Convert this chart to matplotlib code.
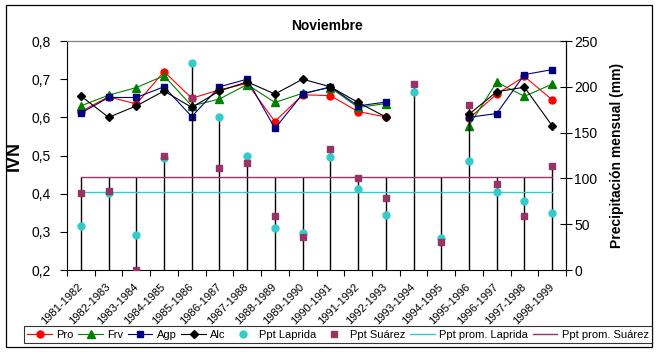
import matplotlib
matplotlib.use("Agg")
import matplotlib.pyplot as plt
from matplotlib.patches import Rectangle
from matplotlib.ticker import FuncFormatter
from matplotlib.transforms import ScaledTranslation
import numpy as np

plt.rcParams['font.family'] = ['Liberation Sans', 'DejaVu Sans']

campaigns = ['1981-1982', '1982-1983', '1983-1984', '1984-1985', '1985-1986', '1986-1987',
             '1987-1988', '1988-1989', '1989-1990', '1990-1991', '1991-1992', '1992-1993',
             '1993-1994', '1994-1995', '1995-1996', '1996-1997', '1997-1998', '1998-1999']

nan = np.nan
pro = [0.615, 0.654, 0.635, 0.720, 0.650, 0.672, 0.689, 0.589, 0.659, 0.657, 0.615, 0.601,
       nan, nan, 0.597, 0.661, 0.707, 0.646]
frv = [0.630, 0.658, 0.678, 0.709, 0.630, 0.648, 0.686, 0.639, 0.663, 0.678, 0.626, 0.636,
       nan, nan, 0.578, 0.692, 0.655, 0.687]
agp = [0.611, 0.652, 0.652, 0.680, 0.602, 0.680, 0.700, 0.571, 0.661, 0.680, 0.630, 0.640,
       nan, nan, 0.600, 0.610, 0.712, 0.725]
alc = [0.656, 0.600, 0.630, 0.669, 0.626, 0.669, 0.693, 0.661, 0.700, 0.680, 0.639, 0.601,
       nan, nan, 0.608, 0.667, 0.679, 0.578]

ppt_laprida = [48.4, 83.7, 38.6, 122.6, 225.6, 166.7, 124.8, 46.2, 40.8, 123.7, 88.8, 60.4,
               194.7, 34.6, 119.3, 85.5, 75.3, 62.6]
ppt_suarez = [84.4, 86.2, 0.0, 124.8, 187.4, 111.7, 117.2, 59.3, 36.4, 132.1, 100.8, 79.0,
              203.1, 30.9, 180.1, 93.9, 59.3, 113.9]
prom_laprida = 84.8
prom_suarez = 101.5

red = '#FF0000'
green = '#008000'
navy = '#000080'
cyan = '#33CCCC'
purple = '#993366'

n = len(campaigns)
x = np.arange(n)

fig = plt.figure(figsize=(6.58, 3.52), dpi=100)
ax = fig.add_axes([67 / 658, 1 - 270 / 352, 499 / 658, 229 / 352])
ax2 = ax.twinx()

# IVN series (primary axis)
ax.plot(x, pro, color=red, lw=0.8, marker='o', ms=5, mec=red, label='Pro')
ax.plot(x, frv, color=green, lw=0.8, marker='^', ms=5.5, mec=green, label='Frv')
ax.plot(x, agp, color=navy, lw=0.8, marker='s', ms=4.8, mec=navy, label='Agp')
ax.plot(x, alc, color='black', lw=0.8, marker='D', ms=4, mec='black', label='Alc')

# precipitation (secondary axis) with drop lines
tops = np.maximum.reduce([ppt_laprida, ppt_suarez, [prom_laprida] * n, [prom_suarez] * n])
ax2.vlines(x, 0, tops, color='black', lw=1.0, zorder=1)
ax2.plot(x, [prom_laprida] * n, color=cyan, lw=1.0, label='Ppt prom. Laprida', zorder=2)
ax2.plot(x, [prom_suarez] * n, color=purple, lw=1.0, label='Ppt prom. Suárez', zorder=2)
ax2.plot(x, ppt_laprida, ls='none', marker='o', ms=5, color=cyan, label='Ppt Laprida', zorder=3)
ax2.plot(x, ppt_suarez, ls='none', marker='s', ms=4.8, color=purple, label='Ppt Suárez', zorder=4)

ax.set_xlim(-0.5, n - 0.5)
ax.set_ylim(0.2, 0.8)
ax.set_yticks(np.arange(0.2, 0.81, 0.1))
ax.yaxis.set_major_formatter(FuncFormatter(lambda v, p: ('%.1f' % v).replace('.', ',')))
ax2.set_ylim(0, 250)
ax2.set_yticks(np.arange(0, 251, 50))

ax.set_xticks(x)
ax.set_xticklabels(campaigns, rotation=45, ha='right', va='center', rotation_mode='anchor', fontsize=8)
shift = ScaledTranslation(-0.035, 0, fig.dpi_scale_trans)
for lab in ax.get_xticklabels():
    lab.set_transform(lab.get_transform() + shift)
ax.set_xticks(np.arange(n + 1) - 0.5, minor=True)
ax.tick_params(axis='x', which='major', length=0, pad=11)
ax.tick_params(axis='x', which='minor', length=4, width=0.8, direction='out')
ax.tick_params(axis='y', length=5, width=0.8, direction='out', labelsize=10, pad=6.5)
ax2.tick_params(axis='y', length=8, width=0.8, direction='inout', labelsize=10, pad=2)

for s in ['left', 'bottom']:
    ax.spines[s].set_linewidth(0.8)
ax.spines['top'].set_color('#808080')
ax.spines['top'].set_linewidth(0.9)
ax2.spines['top'].set_visible(False)
ax2.spines['left'].set_visible(False)
ax2.spines['bottom'].set_visible(False)
ax2.spines['right'].set_linewidth(0.8)

ax.set_ylabel('IVN', fontsize=13, fontweight='bold')
ax.yaxis.set_label_coords(-0.088, 0.5)
ax2.set_ylabel('Precipitación mensual (mm)', fontsize=10, fontweight='bold')
ax2.yaxis.set_label_coords(1.088, 0.5)

fig.text(327 / 658, 1 - 30.5 / 352, 'Noviembre', ha='center', va='baseline',
         fontsize=10, fontweight='bold')

h1, l1 = ax.get_legend_handles_labels()
h2, l2 = ax2.get_legend_handles_labels()
order = ['Pro', 'Frv', 'Agp', 'Alc', 'Ppt Laprida', 'Ppt Suárez', 'Ppt prom. Laprida', 'Ppt prom. Suárez']
hmap = dict(zip(l1 + l2, h1 + h2))
leg = fig.legend([hmap[k] for k in order], order, loc='lower left',
                 bbox_to_anchor=(24 / 658, 1 - 343 / 352, 628 / 658, 18 / 352),
                 mode='expand', ncol=8, fontsize=8, frameon=True, fancybox=False,
                 edgecolor='black', borderpad=0.3, handlelength=2.2, handletextpad=0.4,
                 columnspacing=0.8, borderaxespad=0)
leg.get_frame().set_linewidth(0.8)

fig.add_artist(Rectangle((6 / 658, 1 - 347 / 352), 646 / 658, 342 / 352,
                         transform=fig.transFigure, fill=False, edgecolor='black', lw=0.9))

fig.savefig('out.png', dpi=100, facecolor='white')
